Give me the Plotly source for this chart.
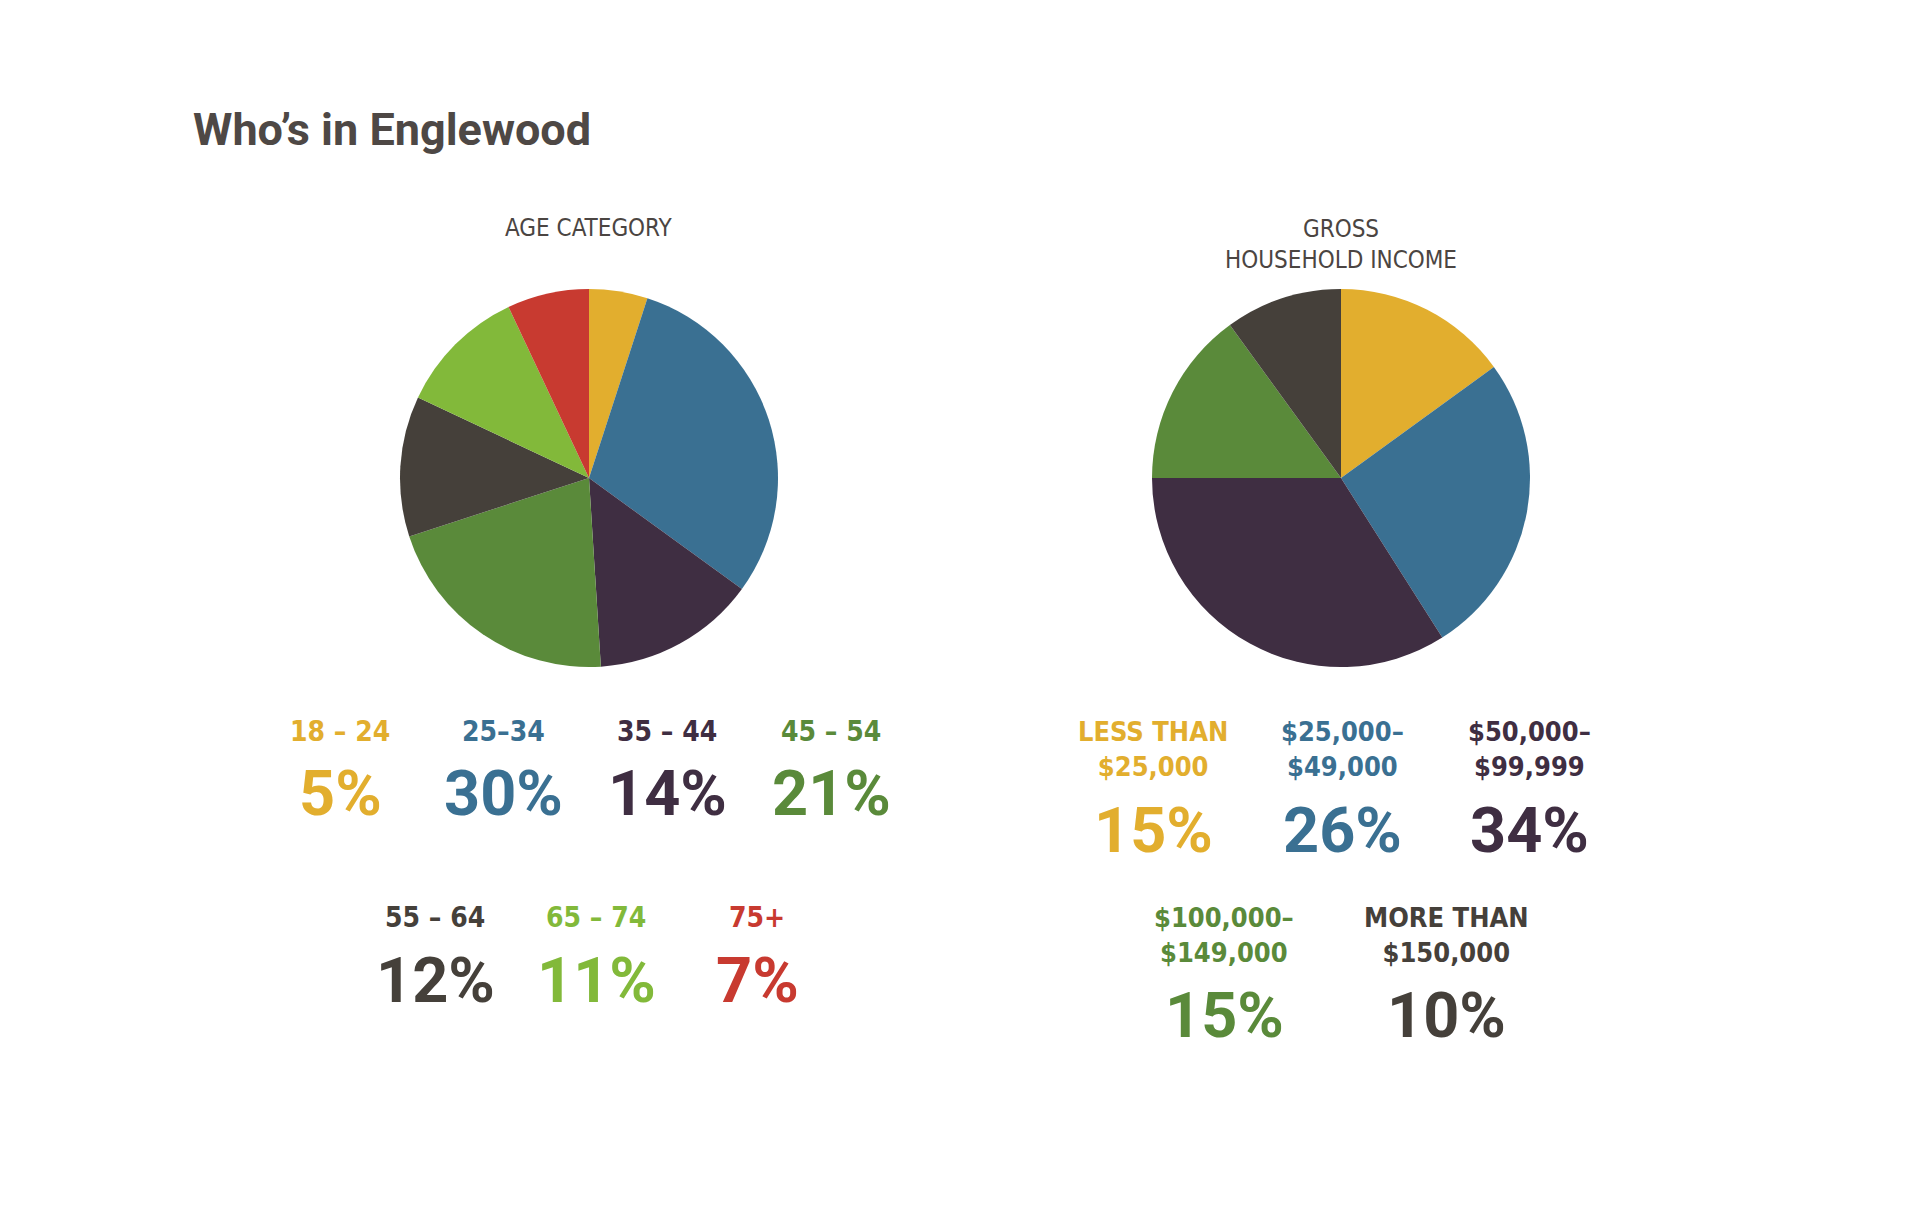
import plotly.graph_objects as go

# ---------------- data ----------------
age_labels = ["18 – 24", "25–34", "35 – 44", "45 – 54", "55 – 64", "65 – 74", "75+"]
age_values = [5, 30, 14, 21, 12, 11, 7]

income_labels = ["LESS THAN<br>$25,000", "$25,000–<br>$49,000", "$50,000–<br>$99,999",
                 "$100,000–<br>$149,000", "MORE THAN<br>$150,000"]
income_values = [15, 26, 34, 15, 10]

title_text = "Who’s in Englewood"
age_title = "AGE CATEGORY"
income_title = "GROSS<br>HOUSEHOLD INCOME"

# ---------------- styles ----------------
age_colors = ["#E2AE2E", "#3A7092", "#3F2E42", "#5A8A3A", "#45403A", "#82B93A", "#C83A30"]
income_colors = ["#E2AE2E", "#3A7092", "#3F2E42", "#5A8A3A", "#45403A"]
text_dark = "#4B4542"
W, H = 1920, 1222
COND = "DejaVu Sans Condensed, Roboto, sans-serif"
PCT = "Roboto, DejaVu Sans Condensed, sans-serif"

def px(x):
    return x / W

def py(y):
    return 1 - y / H

R = 189
age_c = (589, 478)
inc_c = (1341, 478)

fig = go.Figure()
for vals, cols, labs, c in [(age_values, age_colors, age_labels, age_c),
                            (income_values, income_colors, income_labels, inc_c)]:
    fig.add_trace(go.Pie(
        values=vals, labels=[l.replace("<br>", " ") for l in labs],
        marker=dict(colors=cols, line=dict(width=0)),
        sort=False, direction="clockwise", rotation=0,
        textinfo="none", showlegend=False, hoverinfo="label+percent",
        domain=dict(x=[px(c[0] - R), px(c[0] + R)], y=[py(c[1] + R), py(c[1] - R)]),
    ))

ann = []
def add(text, x, y, size, color, family, bold=False):
    ann.append(dict(text=(f"<b>{text}</b>" if bold else text), x=px(x), y=py(y),
                    xref="paper", yref="paper", xanchor="center", yanchor="middle",
                    showarrow=False, font=dict(family=family, size=size, color=color)))

# title
ann.append(dict(text=f"<b>{title_text}</b>", x=px(191), y=py(129), xref="paper", yref="paper",
                xanchor="left", yanchor="middle", showarrow=False,
                font=dict(family="Roboto, sans-serif", size=45, color="#4E4845")))

add(age_title, 589, 228, 24, text_dark, COND)
add(income_title, 1341, 244, 24, text_dark, COND)

# age labels
age_pos = [(340, 731, 793), (503, 731, 793), (667, 731, 793), (831, 731, 793),
           (435, 917, 980), (596, 917, 980), (757, 917, 980)]
for lab, v, col, (x, yl, yp) in zip(age_labels, age_values, age_colors, age_pos):
    add(lab, x, yl, 28, col, COND, bold=True)
    add(f"{v}%", x, yp, 63, col, PCT, bold=True)

# income labels
inc_pos = [(1153, 749, 830), (1342, 749, 830), (1529, 749, 830),
           (1224, 935, 1016), (1446, 935, 1016)]
for lab, v, col, (x, yl, yp) in zip(income_labels, income_values, income_colors, inc_pos):
    add(lab, x, yl, 27, col, COND, bold=True)
    add(f"{v}%", x, yp, 63, col, PCT, bold=True)

fig.update_layout(width=W, height=H, margin=dict(l=0, r=0, t=0, b=0),
                  paper_bgcolor="white", plot_bgcolor="white", annotations=ann)
fig.write_html("out.html")
